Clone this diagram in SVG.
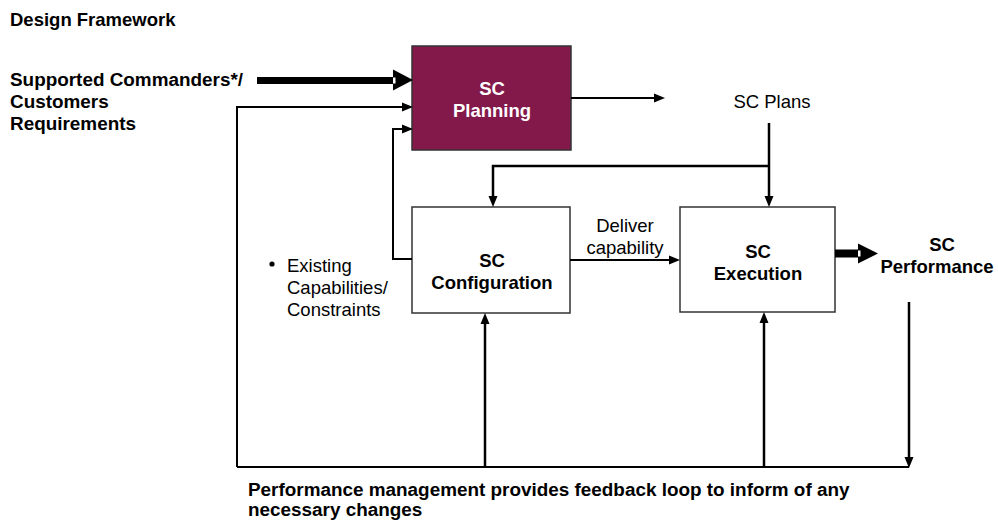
<svg xmlns="http://www.w3.org/2000/svg" width="998" height="520" viewBox="0 0 998 520">
<defs>
<marker id="ah" markerUnits="userSpaceOnUse" markerWidth="11" markerHeight="10" refX="1" refY="5" orient="auto"><path d="M0,0.5 L11,5 L0,9.5 z" fill="#000"/></marker>
</defs>
<style>
text{font-family:"Liberation Sans",Arial,sans-serif;font-size:18.5px;fill:#000}
.b{font-weight:bold}
.m{text-anchor:middle}
.w{fill:#fff}
.lg{font-size:18.9px}
.box{fill:#fff;stroke:#333;stroke-width:1.5}
.plan{fill:#83194B;stroke:#333;stroke-width:1.5}
.ln{fill:none;stroke:#000;stroke-width:2}
.tk{stroke-width:2.5}
</style>
<rect width="998" height="520" fill="#fff"/>
<text class="b" x="10" y="26">Design Framework</text>
<g id="requirements">
<text class="b lg" x="10" y="86">Supported Commanders*/</text>
<text class="b lg" x="10" y="108">Customers</text>
<text class="b lg" x="10" y="130">Requirements</text>
</g>
<g id="planning">
<rect class="plan" x="412" y="46" width="159" height="104"/>
<text class="b m w" x="492" y="95">SC</text>
<text class="b m w" x="492" y="117">Planning</text>
</g>
<g id="configuration">
<rect class="box" x="412" y="207" width="158" height="106"/>
<text class="b m" x="492" y="267">SC</text>
<text class="b m" x="492" y="289">Configuration</text>
</g>
<g id="execution">
<rect class="box" x="680" y="207" width="155" height="105"/>
<text class="b m" x="758" y="258">SC</text>
<text class="b m" x="758" y="280">Execution</text>
</g>
<g id="plans">
<text class="m" x="772" y="108">SC Plans</text>
</g>
<g id="performance">
<text class="b m" x="942" y="251">SC</text>
<text class="b m" x="937" y="273">Performance</text>
</g>
<g id="existing">
<circle cx="272" cy="264" r="2.6" fill="#000"/>
<text x="287" y="272">Existing</text>
<text x="287" y="294">Capabilities/</text>
<text x="287" y="316">Constraints</text>
</g>
<g id="connectors">
<rect x="257" y="77" width="137" height="7" fill="#000"/>
<polygon points="393,69.5 413,80 393,90.5" fill="#000"/>
<rect x="393" y="77.5" width="2.5" height="6" fill="#fff"/>
<path class="ln" d="M237,467 V107 H403" marker-end="url(#ah)"/>
<path class="ln" d="M237,467 H909"/>
<path class="ln" d="M412,259 H393 V129 H403" marker-end="url(#ah)"/>
<path class="ln" d="M571,98 H655" marker-end="url(#ah)"/>
<path class="ln tk" d="M769,123 V197" marker-end="url(#ah)"/>
<path class="ln tk" d="M769,166 H493 V197" marker-end="url(#ah)"/>
<path class="ln" d="M570,260 H670" marker-end="url(#ah)"/>
<text class="m" x="625" y="232">Deliver</text>
<text class="m" x="625" y="254">capability</text>
<rect x="835" y="249.5" width="24" height="8" fill="#000"/>
<polygon points="858,243.5 878,253.5 858,263.5" fill="#000"/>
<rect x="858" y="250.5" width="2.5" height="6" fill="#fff"/>
<path class="ln tk" d="M909,302 V458" marker-end="url(#ah)"/>
<path class="ln tk" d="M485,467 V323" marker-end="url(#ah)"/>
<path class="ln tk" d="M764,467 V322" marker-end="url(#ah)"/>
</g>
<g id="feedback-note">
<text class="b lg" x="248" y="496">Performance management provides feedback loop to inform of any</text>
<text class="b lg" x="248" y="516">necessary changes</text>
</g>
</svg>
